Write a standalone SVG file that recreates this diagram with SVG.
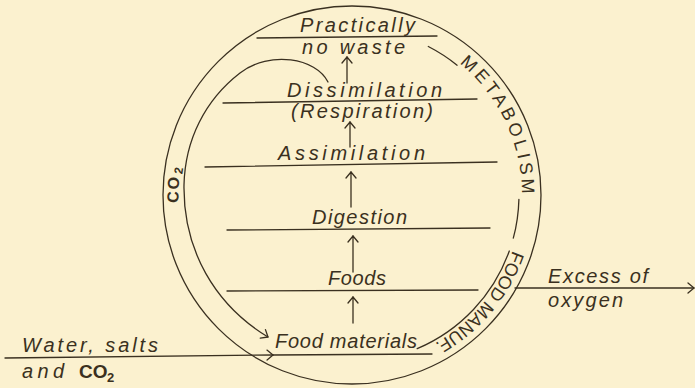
<svg xmlns="http://www.w3.org/2000/svg" width="695" height="388" viewBox="0 0 695 388">
<style>
.ink{fill:none;stroke:#3a3020;stroke-width:1.3;stroke-linecap:round}
.t{font-family:"Liberation Sans","DejaVu Sans",sans-serif;font-style:italic;font-size:20px;fill:#3a3020}
.ring{font-family:"Liberation Sans","DejaVu Sans",sans-serif;font-size:18px;fill:#3a3020}
.b{font-family:"Liberation Sans","DejaVu Sans",sans-serif;font-weight:bold;fill:#3a3020}
</style>
<defs>
<marker id="ah" viewBox="-8 -7 10 14" markerWidth="10" markerHeight="14" refX="0" refY="0" orient="auto" markerUnits="userSpaceOnUse">
<path d="M-6,-5 L0,0 L-6,5" fill="none" stroke="#3a3020" stroke-width="1.3" stroke-linecap="round" stroke-linejoin="round"/>
</marker>
<path id="pMet" d="M437,47.8 A170,170 0 0 1 519.4,224.5"/>
<path id="pFood" d="M519.4,224.5 A170,170 0 0 1 410.1,354.7"/>
<path id="pCO2" d="M186.1,245.7 A173.5,173.5 0 0 1 193.5,124.4"/>
</defs>
<rect width="695" height="388" fill="#fbf1cf"/>

<g id="rings">
<circle class="ink" cx="352" cy="195" r="189"/>
<path class="ink" d="M428.3,46.5 A167,167 0 0 1 457.1,65.2"/>
<path class="ink" d="M518.9,199.4 A167,167 0 0 1 513.3,238.2"/>
<path class="ink" d="M509.3,251 A167,167 0 0 1 417.2,348.7"/>
<text class="ring" letter-spacing="3.6"><textPath href="#pMet" startOffset="50%" text-anchor="middle">METABOLISM</textPath></text>
<text class="ring"><textPath href="#pFood" startOffset="50%" text-anchor="middle">FOOD MANUF.</textPath></text>
<text class="b" font-size="16" letter-spacing="1.5"><textPath href="#pCO2" startOffset="50%" text-anchor="middle">CO<tspan font-size="12" dx="1.5" dy="2.5">2</tspan></textPath></text>
</g>

<g id="level-lines">
<path class="ink" d="M257,38 L437,36"/>
<path class="ink" d="M223,103 L477,99"/>
<path class="ink" d="M205,167 L497,162"/>
<path class="ink" d="M227,230 L490,228"/>
<path class="ink" d="M227,291 L478,290"/>
</g>

<g id="waste"><text class="t" x="300" y="32" textLength="115" lengthAdjust="spacing">Practically</text>
<text class="t" x="302" y="54" textLength="103" lengthAdjust="spacing">no waste</text></g>
<g id="dissimilation"><text class="t" x="287" y="97" textLength="155" lengthAdjust="spacing">Dissimilation</text>
<text class="t" x="291" y="118" textLength="142" lengthAdjust="spacing">(Respiration)</text></g>
<g id="assimilation"><text class="t" x="278" y="160" textLength="147" lengthAdjust="spacing">Assimilation</text></g>
<g id="digestion"><text class="t" x="312" y="224" textLength="95" lengthAdjust="spacing">Digestion</text></g>
<g id="foods"><text class="t" x="328" y="285" textLength="58" lengthAdjust="spacing">Foods</text></g>
<g id="food-materials"><text class="t" x="275" y="348" textLength="142" lengthAdjust="spacing">Food materials</text></g>
<g id="input"><text class="t" x="22" y="352" textLength="136" lengthAdjust="spacing">Water, salts</text>
<text class="t" x="22" y="378" textLength="42" lengthAdjust="spacing">and</text>
<text class="b" x="79" y="378" font-size="19">CO</text>
<text class="b" x="107" y="382" font-size="13">2</text></g>
<g id="output"><text class="t" x="548" y="283" textLength="100" lengthAdjust="spacing">Excess of</text>
<text class="t" x="548" y="307" textLength="75" lengthAdjust="spacing">oxygen</text></g>

<g id="connectors">
<path class="ink" marker-end="url(#ah)" d="M353,323 L353,297"/>
<path class="ink" marker-end="url(#ah)" d="M353,272 L353,236"/>
<path class="ink" marker-end="url(#ah)" d="M351,207 L351,172"/>
<path class="ink" marker-end="url(#ah)" d="M350,147 L350,122"/>
<path class="ink" marker-end="url(#ah)" d="M347,83 L347,57"/>
<path class="ink" marker-end="url(#ah)" d="M328,82 C316,58 270,50 240,73 C205,100 185,140 184,185 C183,250 215,305 268,337"/>
<path class="ink" marker-end="url(#ah)" d="M5,358 L273,355"/>
<path class="ink" d="M273,355 L432,354"/>
<path class="ink" marker-end="url(#ah)" d="M515,288 L694,288"/>
</g>
</svg>
